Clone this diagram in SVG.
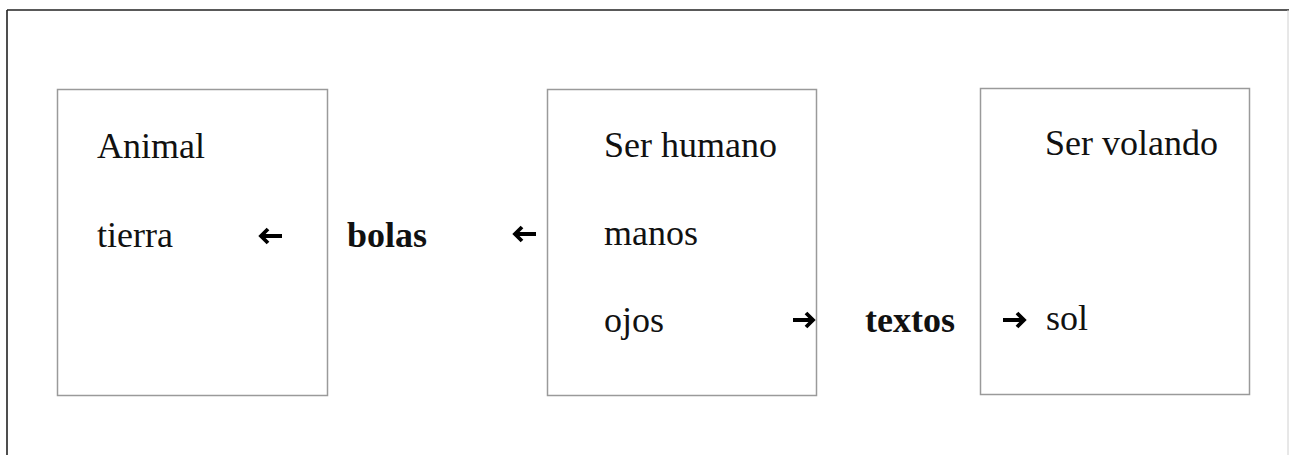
<svg xmlns="http://www.w3.org/2000/svg" width="1290" height="455" viewBox="0 0 1290 455">
<style>
.box{fill:#fff;stroke:#9a9a9a;stroke-width:1.5}
.t{font-family:"Liberation Serif","Times New Roman",serif;font-size:36px;fill:#111}
.b{font-weight:bold}
.arr{fill:none;stroke:#000;stroke-width:3.8;stroke-linecap:butt;stroke-linejoin:miter}
</style>
<rect width="1290" height="455" fill="#fff"/>
<g id="frame">
<line x1="7" y1="10" x2="1289" y2="10" stroke="#222" stroke-width="1.6"/>
<line x1="7" y1="10" x2="7" y2="455" stroke="#222" stroke-width="1.6"/>
<line x1="1288" y1="10" x2="1288" y2="455" stroke="#d0d0d0" stroke-width="1"/>
</g>
<g id="animal">
<rect class="box" x="57.5" y="89.5" width="270" height="306"/>
<text class="t" x="97" y="158">Animal</text>
<text class="t" x="97" y="247">tierra</text>
</g>
<g id="bolas">
<text class="t b" x="347" y="247">bolas</text>
</g>
<g id="humano">
<rect class="box" x="547.5" y="89.5" width="269" height="306"/>
<text class="t" x="604" y="157">Ser humano</text>
<text class="t" x="604" y="245">manos</text>
<text class="t" x="604" y="332">ojos</text>
</g>
<g id="textos">
<text class="t b" x="865" y="332">textos</text>
</g>
<g id="volando">
<rect class="box" x="980.5" y="88.5" width="269" height="306"/>
<text class="t" x="1045" y="155">Ser volando</text>
<text class="t" x="1046" y="330">sol</text>
</g>
<g id="connectors">
<path class="arr" d="M282 236H262M268 229L261 236L268 243"/>
<path class="arr" d="M536 234H516M522 227L515 234L522 241"/>
<path class="arr" d="M793 320H812M806 313L813 320L806 327"/>
<path class="arr" d="M1003 320H1023M1017 313L1024 320L1017 327"/>
</g>
</svg>
